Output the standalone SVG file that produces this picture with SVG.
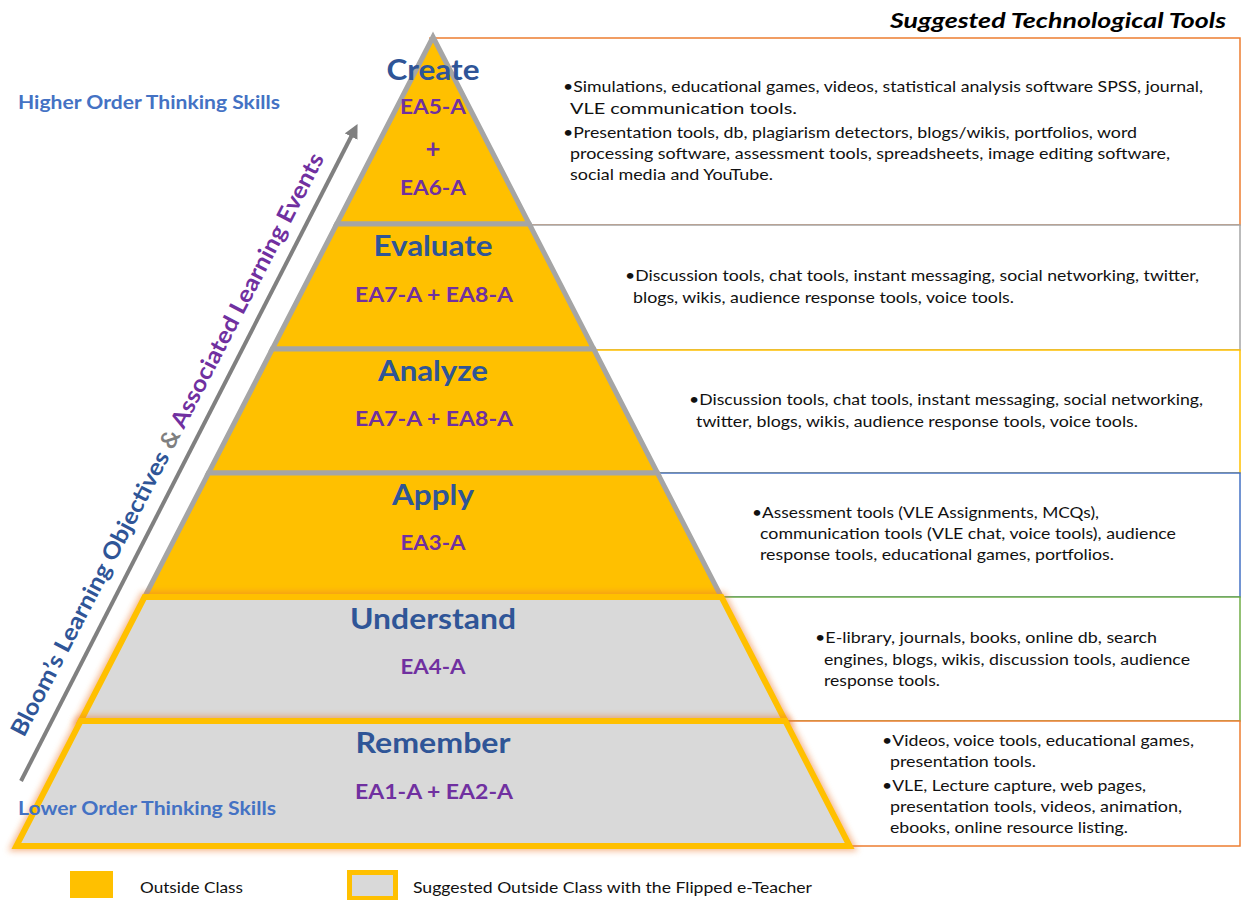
<svg xmlns="http://www.w3.org/2000/svg" width="1241" height="900" viewBox="0 0 1241 900">
<defs>
<style>
.box{fill:#fff;stroke-width:1.5}
.lay{fill:#FFC000;stroke:#A5A5A5;stroke-width:5;stroke-linejoin:miter}
.lay2{fill:#D9D9D9;stroke:#FFC000;stroke-width:6;stroke-linejoin:miter}
.glow{fill:none;stroke:#ED7D31;stroke-width:10;opacity:0.55;filter:url(#blur)}
.h{font-family:Lato,"Liberation Sans",sans-serif;font-weight:bold;font-size:28px;fill:#2F5597;text-anchor:middle}
.ea{font-family:Lato,"Liberation Sans",sans-serif;font-weight:bold;font-size:21px;fill:#7030A0;text-anchor:middle}
.t{font-family:Lato,"Liberation Sans",sans-serif;font-size:15px;fill:#111}
.side{font-family:Lato,"Liberation Sans",sans-serif;font-weight:bold;font-size:18px;fill:#4472C4}
.leg{font-family:Lato,"Liberation Sans",sans-serif;font-size:15px;fill:#111}
</style>
<filter id="blur" x="-10%" y="-10%" width="120%" height="120%"><feGaussianBlur stdDeviation="3"/></filter>
<marker id="ah" markerWidth="14" markerHeight="14" refX="4" refY="7" orient="auto" markerUnits="userSpaceOnUse" viewBox="0 0 14 14"><path d="M0,0 L14,7 L0,14 z" fill="#808080"/></marker>
</defs>
<rect width="1241" height="900" fill="#fff"/>

<text x="1226" y="28" text-anchor="end" textLength="336" lengthAdjust="spacingAndGlyphs" style="font-family:Lato,'Liberation Sans',sans-serif;font-weight:bold;font-style:italic;font-size:21px;fill:#000">Suggested Technological Tools</text>

<g id="tools">
<g id="tools-create">
<rect class="box" x="430" y="38" width="810" height="187" stroke="#ED7D31"/>
<text class="t" x="563" y="92" textLength="640" lengthAdjust="spacingAndGlyphs">•Simulations, educational games, videos, statistical analysis software SPSS, journal,</text>
<text class="t" x="570" y="114" textLength="227" lengthAdjust="spacingAndGlyphs">VLE communication tools.</text>
<text class="t" x="563" y="138" textLength="574" lengthAdjust="spacingAndGlyphs">•Presentation tools, db, plagiarism detectors, blogs/wikis, portfolios, word</text>
<text class="t" x="570" y="159" textLength="600" lengthAdjust="spacingAndGlyphs">processing software, assessment tools, spreadsheets, image editing software,</text>
<text class="t" x="570" y="180" textLength="203" lengthAdjust="spacingAndGlyphs">social media and YouTube.</text>
</g>
<g id="tools-evaluate">
<rect class="box" x="430" y="225" width="810" height="125" stroke="#A5A5A5"/>
<text class="t" x="625" y="281" textLength="574" lengthAdjust="spacingAndGlyphs">•Discussion tools, chat tools, instant messaging, social networking, twitter,</text>
<text class="t" x="633" y="303" textLength="381" lengthAdjust="spacingAndGlyphs">blogs, wikis, audience response tools, voice tools.</text>
</g>
<g id="tools-analyze">
<rect class="box" x="430" y="350" width="810" height="123" stroke="#FFC000"/>
<text class="t" x="689" y="405" textLength="514" lengthAdjust="spacingAndGlyphs">•Discussion tools, chat tools, instant messaging, social networking,</text>
<text class="t" x="696" y="427" textLength="442" lengthAdjust="spacingAndGlyphs">twitter, blogs, wikis, audience response tools, voice tools.</text>
</g>
<g id="tools-apply">
<rect class="box" x="430" y="473" width="810" height="124" stroke="#4472C4"/>
<text class="t" x="752" y="518" textLength="347" lengthAdjust="spacingAndGlyphs">•Assessment tools (VLE Assignments, MCQs),</text>
<text class="t" x="760" y="539" textLength="416" lengthAdjust="spacingAndGlyphs">communication tools (VLE chat, voice tools), audience</text>
<text class="t" x="760" y="560" textLength="354" lengthAdjust="spacingAndGlyphs">response tools, educational games, portfolios.</text>
</g>
<g id="tools-understand">
<rect class="box" x="430" y="597" width="810" height="124" stroke="#70AD47"/>
<text class="t" x="815" y="643" textLength="342" lengthAdjust="spacingAndGlyphs">•E-library, journals, books, online db, search</text>
<text class="t" x="824" y="665" textLength="366" lengthAdjust="spacingAndGlyphs">engines, blogs, wikis, discussion tools, audience</text>
<text class="t" x="824" y="686" textLength="116" lengthAdjust="spacingAndGlyphs">response tools.</text>
</g>
<g id="tools-remember">
<rect class="box" x="430" y="721" width="810" height="125" stroke="#ED7D31"/>
<text class="t" x="882" y="746" textLength="312" lengthAdjust="spacingAndGlyphs">•Videos, voice tools, educational games,</text>
<text class="t" x="890" y="767" textLength="146" lengthAdjust="spacingAndGlyphs">presentation tools.</text>
<text class="t" x="882" y="791" textLength="264" lengthAdjust="spacingAndGlyphs">•VLE, Lecture capture, web pages,</text>
<text class="t" x="890" y="812" textLength="292" lengthAdjust="spacingAndGlyphs">presentation tools, videos, animation,</text>
<text class="t" x="890" y="833" textLength="238" lengthAdjust="spacingAndGlyphs">ebooks, online resource listing.</text>
</g>
</g>

<g id="pyramid">
<g id="level-create">
<polygon class="lay" points="433,37 529.3,224 336.7,224"/>
<text class="h" x="433" y="80" textLength="93" lengthAdjust="spacingAndGlyphs">Create</text>
<text class="ea" x="433" y="114" textLength="66" lengthAdjust="spacingAndGlyphs">EA5-A</text>
<text class="ea" x="433" y="158" textLength="15" lengthAdjust="spacingAndGlyphs" style="font-size:26px">+</text>
<text class="ea" x="433" y="195" textLength="66" lengthAdjust="spacingAndGlyphs">EA6-A</text>
</g>
<g id="level-evaluate">
<polygon class="lay" points="336.7,224 529.3,224 593.7,349 272.3,349"/>
<text class="h" x="433" y="256" textLength="119" lengthAdjust="spacingAndGlyphs">Evaluate</text>
<text class="ea" x="434" y="302" textLength="158" lengthAdjust="spacingAndGlyphs">EA7-A + EA8-A</text>
</g>
<g id="level-analyze">
<polygon class="lay" points="272.3,349 593.7,349 657.5,473 208.5,473"/>
<text class="h" x="433" y="381" textLength="110" lengthAdjust="spacingAndGlyphs">Analyze</text>
<text class="ea" x="434" y="426" textLength="158" lengthAdjust="spacingAndGlyphs">EA7-A + EA8-A</text>
</g>
<g id="level-apply">
<polygon class="lay" points="208.5,473 657.5,473 721.4,597 144.6,597"/>
<text class="h" x="433" y="505" textLength="82" lengthAdjust="spacingAndGlyphs">Apply</text>
<text class="ea" x="433" y="550" textLength="65" lengthAdjust="spacingAndGlyphs">EA3-A</text>
</g>
<g id="level-understand">
<polygon class="glow" points="144.6,597 721.4,597 785.3,721 80.7,721"/>
<polygon class="lay2" points="144.6,597 721.4,597 785.3,721 80.7,721"/>
<text class="h" x="433" y="629" textLength="166" lengthAdjust="spacingAndGlyphs">Understand</text>
<text class="ea" x="433" y="674" textLength="65" lengthAdjust="spacingAndGlyphs">EA4-A</text>
</g>
<g id="level-remember">
<polygon class="glow" points="80.7,721 785.3,721 849.6,846 16.4,846"/>
<polygon class="lay2" points="80.7,721 785.3,721 849.6,846 16.4,846"/>
<text class="h" x="433" y="753" textLength="155" lengthAdjust="spacingAndGlyphs">Remember</text>
<text class="ea" x="434" y="799" textLength="158" lengthAdjust="spacingAndGlyphs">EA1-A + EA2-A</text>
</g>
</g>

<text class="side" x="18" y="109" textLength="262" lengthAdjust="spacingAndGlyphs">Higher Order Thinking Skills</text>
<text class="side" x="18" y="815" textLength="258" lengthAdjust="spacingAndGlyphs">Lower Order Thinking Skills</text>

<g id="connectors">
<line x1="21" y1="781" x2="353" y2="133" stroke="#808080" stroke-width="4" marker-end="url(#ah)"/>
</g>
<text transform="translate(24,738) rotate(-62.6)" textLength="653" lengthAdjust="spacingAndGlyphs" style="font-family:Lato,'Liberation Sans',sans-serif;font-size:23px;font-weight:bold"><tspan fill="#2F5597">Bloom’s Learning Objectives </tspan><tspan fill="#7F7F7F">&amp; </tspan><tspan fill="#7030A0">Associated Learning Events</tspan></text>

<g id="legend">
<rect x="70" y="871" width="43" height="27" fill="#FFC000"/>
<text class="leg" x="140" y="893" textLength="103" lengthAdjust="spacingAndGlyphs">Outside Class</text>
<rect x="349.5" y="872.5" width="46" height="26" fill="#D9D9D9" stroke="#FFC000" stroke-width="5"/>
<text class="leg" x="413" y="893" textLength="399" lengthAdjust="spacingAndGlyphs">Suggested Outside Class with the Flipped e-Teacher</text>
</g>
</svg>
